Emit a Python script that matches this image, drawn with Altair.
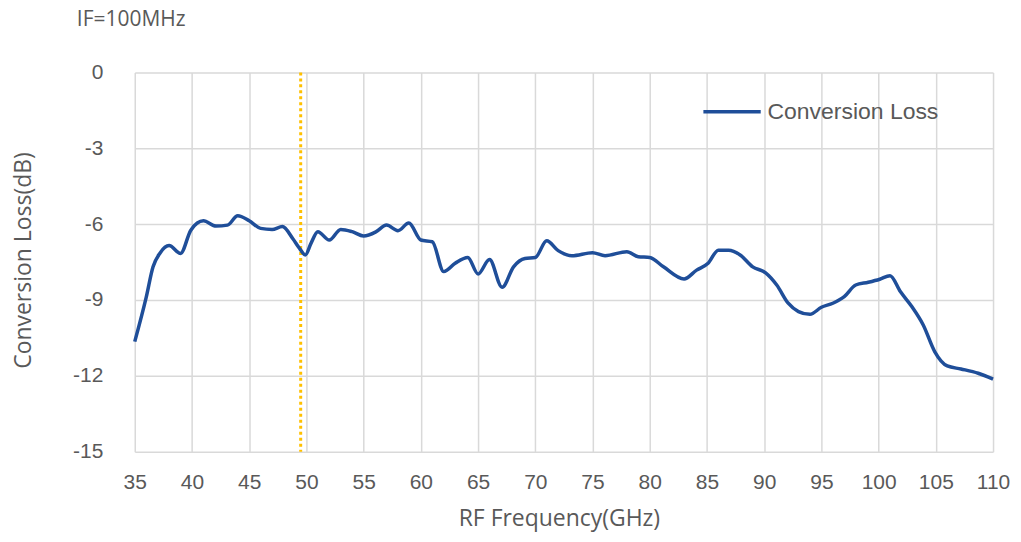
import altair as alt
import pandas as pd

freq = [35.0, 36.0, 36.6, 37.2, 38.0, 39.0, 39.9, 41.0, 42.1, 43.1, 44.0, 45.0, 46.0, 47.0,
        47.9, 48.8, 49.4, 49.9, 50.4, 51.0, 52.0, 53.0, 54.0, 55.0, 56.1, 57.0, 58.0, 58.95,
        60.0, 61.0, 62.0, 63.0, 64.1, 65.0, 66.0, 67.1, 68.1, 69.1, 70.0, 71.0, 72.0, 73.2,
        75.0, 76.1, 78.0, 79.0, 80.0, 81.2, 83.0, 84.1, 85.1, 86.0, 86.9, 87.9, 89.0, 90.1,
        91.1, 92.1, 93.0, 94.0, 95.0, 96.0, 97.0, 98.0, 99.1, 100.1, 101.0, 101.9, 102.9,
        103.9, 104.9, 106.0, 107.2, 108.7, 110.0]
loss = [-10.65, -8.9, -7.69, -7.15, -6.85, -7.16, -6.24, -5.87, -6.08, -6.04, -5.67, -5.87,
        -6.17, -6.21, -6.1, -6.57, -6.96, -7.22, -6.76, -6.3, -6.63, -6.21, -6.3, -6.47, -6.3,
        -6.04, -6.26, -5.96, -6.63, -6.7, -7.88, -7.55, -7.32, -7.97, -7.4, -8.5, -7.69,
        -7.36, -7.32, -6.66, -7.05, -7.25, -7.13, -7.25, -7.09, -7.29, -7.32, -7.69, -8.17,
        -7.82, -7.55, -7.03, -7.03, -7.22, -7.69, -7.92, -8.41, -9.13, -9.46, -9.57, -9.29,
        -9.13, -8.87, -8.41, -8.3, -8.18, -8.04, -8.67, -9.26, -9.99, -11.04, -11.61, -11.73,
        -11.9, -12.13]
series_name = "Conversion Loss"
marker_freq = [49.5]
x_ticks = list(range(35, 111, 5))
y_ticks = [0, -3, -6, -9, -12, -15]
title_text = "IF=100MHz"

df = pd.DataFrame({"freq": freq, "loss": loss, "series": series_name})
mk = pd.DataFrame({"freq": marker_freq})

grey = "#595959"
font = "Liberation Sans"
tfont = "Open Sans"

x_enc = alt.X("freq:Q", scale=alt.Scale(domain=[35, 110], nice=False, zero=False),
              axis=alt.Axis(values=x_ticks, title="RF Frequency(GHz)", grid=True,
                            gridColor="#d9d9d9", gridWidth=1.5, domain=False, ticks=False,
                            labelFontSize=21, labelColor=grey, labelFont=font, labelPadding=20,
                            labelFlush=False, labelExpr="'' + datum.value",
                            titleFontSize=23, titleColor=grey, titleFont=tfont,
                            titleFontWeight="normal", titleX=425, titleY=67,
                            titleBaseline="middle", titleAlign="center"))
y_enc = alt.Y("loss:Q", scale=alt.Scale(domain=[-15, 0], nice=False, zero=False),
              axis=alt.Axis(values=y_ticks, title="Conversion Loss(dB)", grid=True,
                            gridColor="#d9d9d9", gridWidth=1.5, domain=False, ticks=False,
                            labelFontSize=21, labelColor=grey, labelFont=font, labelPadding=32,
                            labelExpr="'' + datum.value",
                            titleFontSize=23, titleColor=grey, titleFont=tfont,
                            titleFontWeight="normal", titleX=-111, titleY=188,
                            titleAngle=-90, titleBaseline="middle", titleAlign="center"))

line = alt.Chart(df).mark_line(interpolate="monotone", strokeWidth=3.5).encode(
    x=x_enc, y=y_enc,
    color=alt.Color("series:N", scale=alt.Scale(range=["#1F4E99"]),
                    legend=alt.Legend(title=None, orient="none", legendX=568, legendY=9,
                                      symbolType="stroke", symbolSize=3300,
                                      symbolStrokeWidth=3.5, labelFontSize=23,
                                      labelLimit=0,
                                      labelColor=grey, labelFont=font, labelOffset=5))
)

marker = alt.Chart(mk).mark_rule(color="#FFC000", strokeWidth=3, strokeDash=[3, 3]).encode(
    x=alt.X("freq:Q")
)

title = alt.Chart(pd.DataFrame({"t": [title_text]})).mark_text(
    align="left", baseline="middle", fontSize=21, color=grey, font=tfont
).encode(x=alt.value(-58), y=alt.value(-52), text="t:N")

chart = alt.layer(marker, line, title).properties(
    width=860, height=380,
    autosize=alt.AutoSizeParams(type="none"),
    padding={"left": 127, "top": 64, "right": 20, "bottom": 80},
).configure_view(stroke=None)

chart.save("out.html", embed_options={"renderer": "svg", "actions": False})
